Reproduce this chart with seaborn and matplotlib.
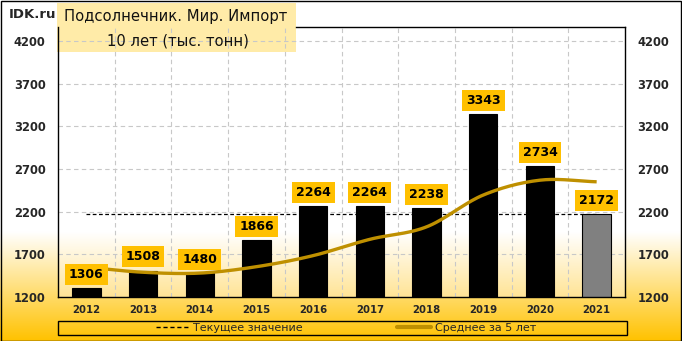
import numpy as np
import pandas as pd
import matplotlib
matplotlib.use("Agg")
import matplotlib.pyplot as plt
import seaborn as sns
from matplotlib.lines import Line2D
from matplotlib.patches import Rectangle

years = ["2012", "2013", "2014", "2015", "2016", "2017", "2018", "2019", "2020", "2021"]
values = [1306, 1508, 1480, 1866, 2264, 2264, 2238, 3343, 2734, 2172]
avg5 = [1550, 1490, 1480, 1555, 1685, 1876, 2022, 2395, 2569, 2550]
current_value = 2172
y_ticks = [1200, 1700, 2200, 2700, 3200, 3700, 4200]
title1 = "Подсолнечник. Мир. Импорт"
title2 = "10 лет (тыс. тонн)"
legend_labels = ["Текущее значение", "Среднее за 5 лет"]

sns.set_theme(style="white")
plt.rcParams["font.family"] = ["DejaVu Sans"]

W, H = 682, 341
fig = plt.figure(figsize=(W / 100, H / 100), dpi=100)

# figure background gradient
bg = fig.add_axes([0, 0, 1, 1], zorder=-10)
bg.set_axis_off()
n = 400
t = np.linspace(0, 1, n)  # 0 top, 1 bottom
f = np.clip((t - 0.68) / 0.32, 0, 1)
top = np.array([1.0, 1.0, 1.0])
bot = np.array([255, 194, 0]) / 255
grad = top[None, :] * (1 - f[:, None]) + bot[None, :] * f[:, None]
bg.imshow(grad[:, None, :], aspect="auto", extent=(0, 1, 0, 1))
bg.set_xlim(0, 1)
bg.set_ylim(0, 1)

# plot axes
L, R, T, B = 58, 625, 27, 297
ax = fig.add_axes([L / W, 1 - B / H, (R - L) / W, (B - T) / H])
ax.set_facecolor("none")

df = pd.DataFrame({"year": years, "value": values})
colors = ["#000000"] * 9 + ["#808080"]
sns.barplot(data=df, x="year", y="value", hue="year", palette=colors, legend=False,
            width=0.5, edgecolor="black", linewidth=0.8, ax=ax, zorder=3, saturation=1)

# plot-area gradient
t2 = np.linspace(0, 1, n)
f2 = np.clip((t2 - 0.76) / 0.24, 0, 1)
bot2 = np.array([255, 228, 150]) / 255
grad2 = top[None, :] * (1 - f2[:, None]) + bot2[None, :] * f2[:, None]
ax.imshow(grad2[:, None, :], aspect="auto", extent=(0, 1, 0, 1),
          transform=ax.transAxes, zorder=0)

# smooth 5-year average line (Catmull-Rom rendering)
xs = np.arange(len(avg5), dtype=float)
ys = np.array(avg5, dtype=float)
px = np.concatenate([[2 * xs[0] - xs[1]], xs, [2 * xs[-1] - xs[-2]]])
py = np.concatenate([[2 * ys[0] - ys[1]], ys, [2 * ys[-1] - ys[-2]]])
cx, cy = [], []
for i in range(1, len(px) - 2):
    s = np.linspace(0, 1, 30, endpoint=False)
    for arr, out in ((px, cx), (py, cy)):
        p0, p1, p2, p3 = arr[i - 1], arr[i], arr[i + 1], arr[i + 2]
        out.extend(0.5 * ((2 * p1) + (-p0 + p2) * s + (2 * p0 - 5 * p1 + 4 * p2 - p3) * s ** 2
                          + (-p0 + 3 * p1 - 3 * p2 + p3) * s ** 3))
cx.append(xs[-1]); cy.append(ys[-1])
ax.plot(cx, cy, color="#BF9000", lw=2.4, zorder=4, solid_capstyle="butt")

# current value dashed line
ax.plot([0, len(years) - 1], [current_value, current_value], color="black",
        lw=0.9, ls=(0, (3, 2)), zorder=2.8)

# value labels
for i, v in enumerate(values):
    ax.annotate(f"{v}", xy=(i, v), xytext=(0, 10), textcoords="offset points",
                ha="center", va="center", fontsize=9, fontweight="bold", color="black",
                zorder=6,
                bbox=dict(boxstyle="square,pad=0.32", fc="#FFC000", ec="none"))

ax.set_xlim(-0.5, len(years) - 0.5)
ax.set_ylim(1200, 4364)
ax.set_yticks(y_ticks)
ax.set_yticklabels([str(v) for v in y_ticks])
ax.set_xlabel("")
ax.set_ylabel("")
ax.set_xticks(range(len(years)))
ax.set_xticklabels(years)
ax.set_xticks(np.arange(0.5, len(years) - 1, 1.0), minor=True)

ax.set_axisbelow(True)
ax.grid(True, axis="y", which="major", color="#C8C8C8", ls=(0, (4, 3)), lw=0.8)
ax.grid(True, axis="x", which="minor", color="#C8C8C8", ls=(0, (4, 3)), lw=0.8)
ax.grid(False, axis="x", which="major")

ax.tick_params(axis="y", which="both", length=0, labelsize=8.3, pad=9,
               labelleft=True, labelright=True)
ax.tick_params(axis="x", which="both", length=0, labelsize=7.3, pad=6)
for lab in ax.get_yticklabels() + ax.get_xticklabels():
    lab.set_fontweight("bold")
for sp in ax.spines.values():
    sp.set_visible(True)
    sp.set_color("black")
    sp.set_linewidth(1.0)
    sp.set_zorder(5)
ax.spines["top"].set_bounds(3.7, len(years) - 0.5)

# title box
ax.add_patch(Rectangle((57 / W, 1 - 52 / H), 239 / W, 49 / H, transform=fig.transFigure,
                       fc="#FFEBA8", ec="none", clip_on=False, zorder=0.3))
fig.text(176 / W, 1 - 17 / H, title1, ha="center", va="center", fontsize=10.6, color="#111111")
fig.text(178 / W, 1 - 41 / H, title2, ha="center", va="center", fontsize=10.6, color="#111111")
fig.text(9 / W, 1 - 15 / H, "IDK.ru", ha="left", va="center", fontsize=9.5, fontweight="bold")

# legend
fig.add_artist(Rectangle((58 / W, 1 - 335 / H), 569 / W, 14 / H, transform=fig.transFigure,
                         fc="none", ec="black", lw=1.0))
handles = [Line2D([], [], color="black", lw=1.0, ls=(0, (3, 2))),
           Line2D([], [], color="#BF9000", lw=3)]
ax.legend(handles, legend_labels, ncol=2, loc="center",
          bbox_to_anchor=(346 / W, 1 - 328 / H), bbox_transform=fig.transFigure,
          frameon=False, fontsize=8, handlelength=3, handletextpad=0.4,
          columnspacing=8.5, borderpad=0, borderaxespad=0)

# figure border
fig.add_artist(Rectangle((0.5 / W, 0.5 / H), 1 - 1.5 / W, 1 - 1.5 / H, transform=fig.transFigure,
                         fc="none", ec="black", lw=1.0))

fig.savefig("out.png", dpi=100)
